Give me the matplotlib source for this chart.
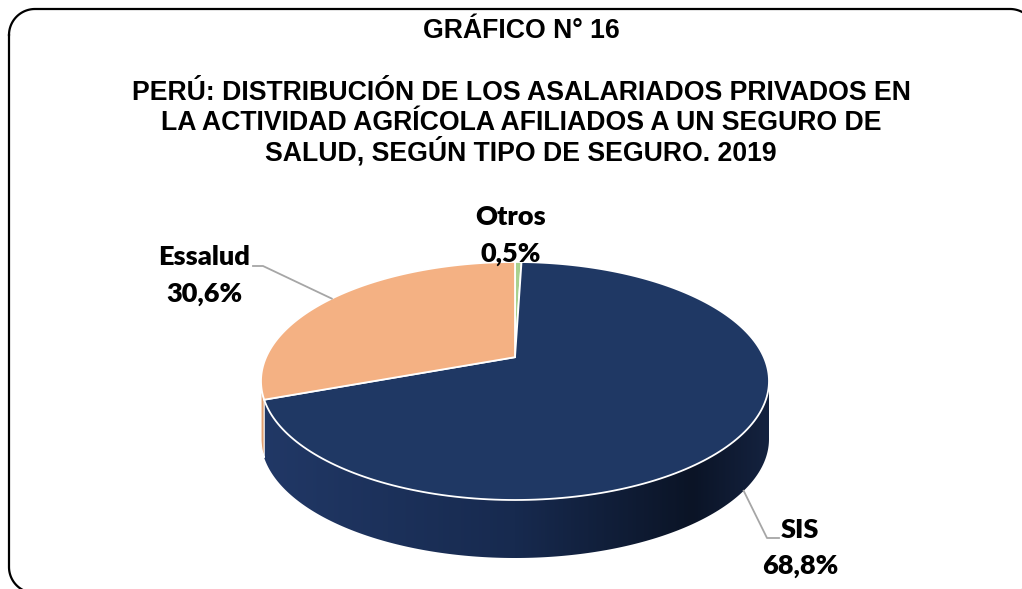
import numpy as np
import matplotlib
matplotlib.use("Agg")
import matplotlib.pyplot as plt
from matplotlib.patches import Polygon
from matplotlib.colors import LinearSegmentedColormap

# data
names = ["Otros", "SIS", "Essalud"]
values = [0.5, 68.8, 30.6]
colors = ["#A9D18E", "#1F3864", "#F4B183"]
side_colors = ["#8FB574", None, "#E2A070"]
title_lines = ["GRÁFICO N° 16",
               "PERÚ: DISTRIBUCIÓN DE LOS ASALARIADOS PRIVADOS EN",
               "LA ACTIVIDAD AGRÍCOLA AFILIADOS A UN SEGURO DE",
               "SALUD, SEGÚN TIPO DE SEGURO. 2019"]

# layout of the 3d pie (pixel coords, y down)
cx, cy = 515, 381
ra, rb = 254, 119
depth = 58
tilt = 0.20          # perspective shift of the centre
ch = 1 / np.sqrt(1 - tilt**2)
sh = tilt * ch


def project(theta, drop=0.0):
    x, y = np.cos(theta), np.sin(theta)
    w = sh * y + ch
    X = x / w
    Y = (ch * y + sh) / w
    return cx + ra * X, cy - rb * Y + drop


def arc(t1, t2, drop=0.0, n=200):
    t = np.linspace(t1, t2, n)
    xs, ys = project(t, drop)
    return np.column_stack([xs, ys])


fig = plt.figure(figsize=(10.22, 5.89), dpi=100)
ax = fig.add_axes([0, 0, 1, 1])
ax.set_xlim(0, 1022)
ax.set_ylim(589, 0)
ax.axis("off")

frac = np.array(values) / np.sum(values)
edges = np.deg2rad(90 - 360 * np.concatenate([[0], np.cumsum(frac)]))
centre = (cx, cy - rb * sh / ch)

# visible band of the side wall
alpha = np.arcsin(tilt)
vis_lo, vis_hi = -np.pi + alpha, -alpha

side_cmap = LinearSegmentedColormap.from_list(
    "side", [(0, "#213866"), (0.5, "#172A4F"), (0.85, "#0B1426"), (1, "#14223F")])

for i in range(len(values)):
    hi, lo = edges[i], edges[i + 1]
    s_lo, s_hi = max(lo, vis_lo), min(hi, vis_hi)
    if s_hi <= s_lo:
        continue
    pts = np.vstack([arc(s_lo, s_hi), arc(s_hi, s_lo, depth)])
    if side_colors[i] is None:
        poly = Polygon(pts, closed=True, facecolor="none", edgecolor="none")
        ax.add_patch(poly)
        grad = np.linspace(0, 1, 256).reshape(1, -1)
        im = ax.imshow(grad, cmap=side_cmap, aspect="auto",
                       extent=[cx - ra, cx + ra, cy + rb + depth + 5, cy - 10])
        im.set_clip_path(poly)
    else:
        ax.add_patch(Polygon(pts, closed=True, facecolor=side_colors[i],
                             edgecolor="white", lw=0.8))

for i in range(len(values)):
    hi, lo = edges[i], edges[i + 1]
    pts = np.vstack([[centre], arc(hi, lo)])
    ax.add_patch(Polygon(pts, closed=True, facecolor=colors[i],
                         edgecolor="white", lw=1.3, joinstyle="miter"))

ax.set_xlim(0, 1022)
ax.set_ylim(589, 0)

# labels
lab_font = dict(family="Lato", fontweight="heavy", fontsize=19.5, color="black")
lab_pos = {"Otros": (511, 225, 262), "Essalud": (204, 265, 302), "SIS": (800, 538, 574)}
for i, name in enumerate(names):
    x, y1, y2 = lab_pos[name]
    ax.text(x, y1, name, ha="center", va="baseline", **lab_font)
    ax.text(x, y2, f"{values[i]:.1f}%".replace(".", ","), ha="center",
            va="baseline", **lab_font)

# leader lines
mid_ess = 0.5 * (edges[2] + edges[3])
ex, ey = project(mid_ess)
ax.plot([253, 263, ex], [266, 266, ey], color="#A6A6A6", lw=1.3)
mid_sis = 0.5 * (edges[1] + edges[2])
sx, sy = project(mid_sis, depth)
ax.plot([sx, 767, 779], [sy, 538, 538], color="#A6A6A6", lw=1.3)

# title
title_font = dict(family="Liberation Sans", fontweight="bold", fontsize=19.2, color="black")
for txt, yb in zip(title_lines, [38.5, 100, 130, 160.5]):
    ax.text(521, yb, txt, ha="center", va="baseline", **title_font)

# rounded frame
x0, y0, x1, y1, r = 9, 9, 1036, 593, 26
corner = np.linspace(0, np.pi / 2, 30)
fx = np.concatenate([x0 + r - r * np.cos(corner), x1 - r + r * np.sin(corner),
                     x1 - r + r * np.cos(corner), x0 + r - r * np.sin(corner)])
fy = np.concatenate([y0 + r - r * np.sin(corner), y0 + r - r * np.cos(corner),
                     y1 - r + r * np.sin(corner), y1 - r + r * np.cos(corner)])
fx = np.append(fx, fx[0])
fy = np.append(fy, fy[0])
ax.plot(fx, fy, color="black", lw=1.6, solid_joinstyle="round")

fig.savefig("out.png", dpi=100)
